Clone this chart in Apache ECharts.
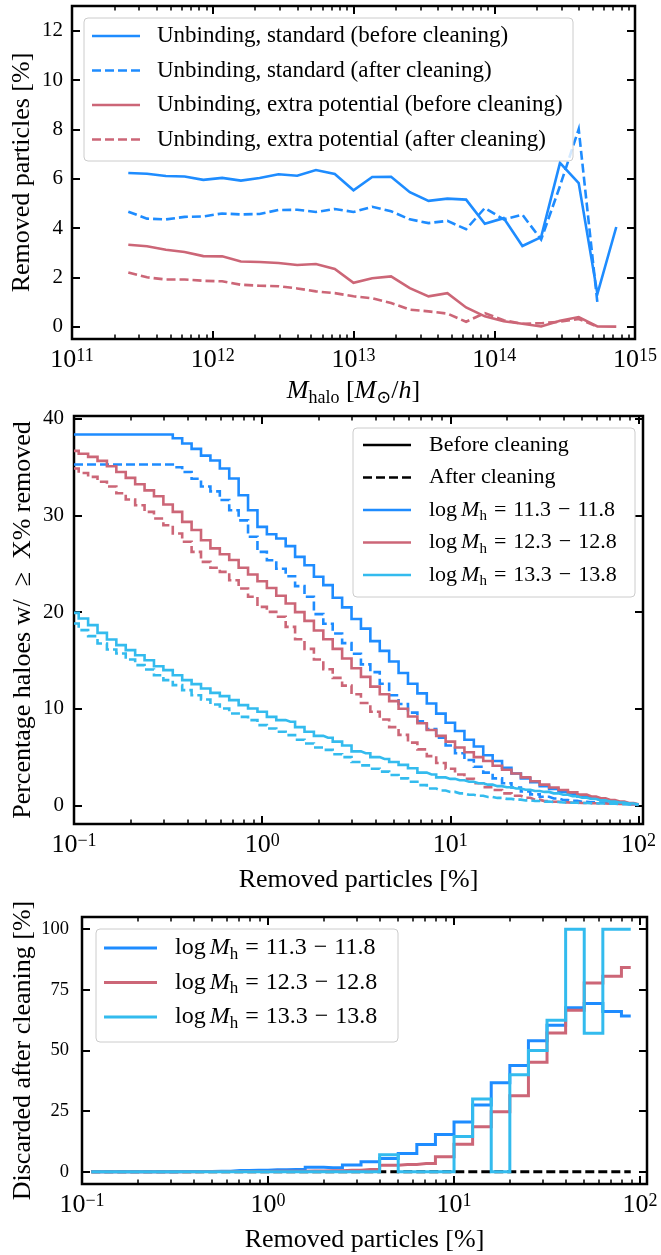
<!DOCTYPE html>
<html><head><meta charset="utf-8">
<script src="https://cdn.jsdelivr.net/npm/echarts@6/dist/echarts.min.js"></script>
<style>html,body{margin:0;padding:0;background:#fff}#c{width:661px;height:1255px}</style>
</head><body><div id="c"></div>
<script>
// ---------- Panel 1: removed particles vs halo mass ----------
const massLog = [11.4, 11.533, 11.667, 11.8, 11.933, 12.067, 12.2, 12.333, 12.467, 12.6, 12.733, 12.867, 13.0, 13.133, 13.267, 13.4, 13.533, 13.667, 13.8, 13.933, 14.067, 14.2, 14.333, 14.467, 14.6, 14.733, 14.867];
const stdBefore = [6.23, 6.20, 6.11, 6.09, 5.95, 6.03, 5.92, 6.03, 6.18, 6.12, 6.35, 6.19, 5.53, 6.07, 6.08, 5.45, 5.10, 5.19, 5.15, 4.17, 4.40, 3.27, 3.63, 6.64, 5.82, 1.33, 4.04];
const stdAfter = [4.66, 4.38, 4.35, 4.45, 4.47, 4.59, 4.55, 4.57, 4.73, 4.74, 4.65, 4.77, 4.65, 4.86, 4.68, 4.35, 4.20, 4.29, 3.95, 4.81, 4.35, 4.54, 3.53, 5.70, 8.01, 0.96, null];
const extraBefore = [3.32, 3.26, 3.12, 3.03, 2.86, 2.85, 2.64, 2.62, 2.58, 2.50, 2.54, 2.34, 1.78, 1.96, 2.04, 1.56, 1.23, 1.36, 0.78, 0.42, 0.22, 0.12, 0.01, 0.24, 0.39, 0.01, 0.0];
const extraAfter = [2.20, 2.00, 1.91, 1.91, 1.86, 1.84, 1.70, 1.66, 1.64, 1.55, 1.43, 1.36, 1.23, 1.15, 0.96, 0.69, 0.62, 0.53, 0.20, 0.55, 0.26, 0.12, 0.14, 0.20, 0.31, 0.0, null];
const p1Labels = ['Unbinding, standard (before cleaning)', 'Unbinding, standard (after cleaning)', 'Unbinding, extra potential (before cleaning)', 'Unbinding, extra potential (after cleaning)'];

// ---------- Panel 2: cumulative percentage of haloes ----------
const removedLog = [-1.00,-0.95,-0.90,-0.85,-0.80,-0.75,-0.70,-0.65,-0.60,-0.55,-0.50,-0.45,-0.40,-0.35,-0.30,-0.25,-0.20,-0.15,-0.10,-0.05,0.00,0.05,0.10,0.15,0.20,0.25,0.30,0.35,0.40,0.45,0.50,0.55,0.60,0.65,0.70,0.75,0.80,0.85,0.90,0.95,1.00,1.05,1.10,1.15,1.20,1.25,1.30,1.35,1.40,1.45,1.50,1.55,1.60,1.65,1.70,1.75,1.80,1.85,1.90,1.95,2.00];
const lowBefore = [38.38,38.38,38.38,38.38,38.38,38.38,38.38,38.38,38.38,38.38,38.38,38.0,37.45,36.9,36.2,35.7,34.86,33.83,32.1,30.55,28.83,28.07,27.62,26.83,25.72,24.86,23.66,22.8,21.5,20.5,19.3,18.3,17.0,16.0,14.9,13.7,12.6,11.6,10.55,9.5,8.55,7.7,6.8,6.1,5.2,4.6,3.9,3.3,2.8,2.4,2.0,1.7,1.4,1.15,0.92,0.72,0.55,0.4,0.27,0.16,0.08];
const lowAfter = [35.28,35.28,35.28,35.28,35.28,35.28,35.28,35.28,35.28,35.28,35.28,35.0,34.5,33.8,33.0,32.5,31.6,30.55,29.5,27.8,26.24,25.38,24.5,23.72,22.7,21.6,19.8,18.8,17.8,16.8,15.7,14.6,13.8,12.6,11.4,10.5,9.6,8.7,7.9,7.0,6.2,5.4,4.7,4.0,3.4,2.8,2.3,1.85,1.45,1.15,0.9,0.72,0.57,0.47,0.39,0.33,0.28,0.23,0.18,0.12,0.06];
const midBefore = [36.69,36.4,36.07,35.66,35.1,34.5,33.9,33.24,32.6,32.0,31.14,30.38,29.34,28.5,27.45,26.6,26.0,25.4,24.6,23.9,23.2,22.5,21.7,20.9,20.0,19.1,18.1,17.2,16.2,15.2,14.2,13.3,12.3,11.5,10.8,10.0,9.2,8.5,7.8,7.2,6.6,6.0,5.5,5.0,4.6,4.1,3.7,3.3,2.9,2.5,2.15,1.85,1.6,1.35,1.12,0.92,0.74,0.56,0.4,0.25,0.12];
const midAfter = [34.86,34.4,34.0,33.5,33.0,32.3,31.66,31.07,30.38,29.7,29.0,28.14,27.28,26.24,25.2,24.6,24.17,23.31,22.45,21.59,20.55,20.03,19.52,18.48,17.2,16.2,15.1,14.1,13.2,12.4,11.5,10.6,9.7,8.9,8.1,7.3,6.5,5.8,5.1,4.4,3.8,3.2,2.75,2.3,1.9,1.6,1.25,1.0,0.8,0.6,0.45,0.38,0.32,0.28,0.25,0.22,0.2,0.18,0.15,0.12,0.08];
const highBefore = [19.93,19.34,18.66,17.86,17.17,16.59,16.07,15.55,15.03,14.41,14.0,13.48,12.97,12.55,12.1,11.65,11.31,10.9,10.38,10.03,9.69,9.17,8.83,8.66,8.1,7.62,7.2,7.0,6.6,6.2,5.6,5.4,5.0,4.8,4.5,4.2,3.85,3.4,3.2,2.9,2.75,2.6,2.45,2.3,2.15,2.0,1.88,1.75,1.62,1.5,1.4,1.25,1.1,0.95,0.8,0.66,0.52,0.4,0.3,0.2,0.1];
const highAfter = [18.83,18.14,17.52,16.76,16.14,15.72,15.1,14.52,14.07,13.48,12.97,12.45,11.93,11.41,10.97,10.45,10.03,9.52,9.17,8.83,8.31,7.97,7.62,7.28,6.8,6.41,6.0,5.75,5.3,5.0,4.5,4.15,3.8,3.5,3.15,2.8,2.45,2.1,1.75,1.55,1.4,1.25,1.1,1.0,0.88,0.78,0.68,0.6,0.52,0.46,0.4,0.35,0.31,0.28,0.25,0.22,0.2,0.17,0.14,0.1,0.06];
const massBins = ['11.3 \u2212 11.8', '12.3 \u2212 12.8', '13.3 \u2212 13.8'];

// ---------- Panel 3: fraction discarded after cleaning ----------
const binLog = [-0.95,-0.85,-0.75,-0.65,-0.55,-0.45,-0.35,-0.25,-0.15,-0.05,0.05,0.15,0.25,0.35,0.45,0.55,0.65,0.75,0.85,0.95,1.05,1.15,1.25,1.35,1.45,1.55,1.65,1.75,1.85,1.95];
const discLow = [0,0,0,0,0,0.1,0.2,0.3,0.6,0.7,0.9,1.0,1.9,1.7,2.8,4.2,5.5,7.6,11.3,15.4,20.5,27.5,36.7,43.8,54.0,60.4,67.6,69.4,66.1,64.2];
const discMid = [0,0,0,0,0,0,0.1,0.1,0.2,0.2,0.3,0.3,0.4,0.5,0.7,1.0,2.7,3.0,3.4,6.2,11.4,18.6,24.8,31.4,45.2,57.2,66.6,77.8,80.6,84.2];
const discHigh = [0,0,0,0,0,0,0,0,0,0,0,0,0,0,0,0,7.0,0,0,0,14.6,30.0,0,40.0,50.0,62.5,100,57.1,100,100];
const discAfter = [0,0,0,0,0,0,0,0,0,0,0,0,0,0,0,0,0,0,0,0,0,0,0,0,0,0,0,0,0,0];

// tick labels
const p1YTicks = [0, 2, 4, 6, 8, 10, 12];
const p2YTicks = [0, 10, 20, 30, 40];
const p3YTicks = [0, 25, 50, 75, 100];
const p1XDecades = [11, 12, 13, 14, 15];
const p23XDecades = [-1, 0, 1, 2];

// ---------- styling ----------
const FF = '"Liberation Serif", "DejaVu Serif", serif';
const BLUE = '#1e8cff', RED = '#cc6677', CYAN = '#33bbee';
const DASH = [9, 4];
const LW = 2.6;

const grids = [
  {left: 72, top: 6, width: 563, height: 333},
  {left: 74, top: 416, width: 569, height: 408},
  {left: 82, top: 917, width: 565, height: 267}
].map(g => Object.assign(g, {show: true, borderColor: '#000', borderWidth: 2.5, backgroundColor: 'rgba(0,0,0,0)', containLabel: false, outerBoundsMode: 'none'}));

const xRange = [[1e11, 1e15], [0.1, 105.7], [0.1, 109]];

function minorList(e0, e1) {
  const out = [];
  for (let e = e0; e < e1; e++) for (let m = 2; m <= 9; m++) out.push(e + Math.log10(m));
  return out;
}
function supFmt(v) {
  const e = Math.round(v);
  return '{b|10}{s|' + (e < 0 ? '\u2212' + (-e) : e) + '}';
}
const tickRich = {
  b: {fontFamily: FF, fontSize: 26, color: '#000', lineHeight: 26, verticalAlign: 'bottom'},
  s: {fontFamily: FF, fontSize: 18, color: '#000', lineHeight: 3, verticalAlign: 'top'}
};
const mathRich = (fs) => ({
  t: {fontFamily: FF, fontSize: fs, color: '#000', fill: '#000', lineHeight: fs + 6, verticalAlign: 'middle'},
  tl: {fontFamily: FF, fontSize: fs, color: '#000', fill: '#000', lineHeight: fs + 6, verticalAlign: 'middle', padding: [0, 4, 0, 0]},
  i: {fontFamily: FF, fontSize: fs, fontStyle: 'italic', color: '#000', fill: '#000', lineHeight: fs + 6, verticalAlign: 'middle'},
  u: {fontFamily: FF, fontSize: Math.round(fs * 0.7), color: '#000', fill: '#000', lineHeight: 10, verticalAlign: 'bottom'},
  o: {fontFamily: FF, fontSize: fs, color: '#000', fill: '#000', lineHeight: fs + 6, verticalAlign: 'middle', padding: [0, 7, 0, 7]}
});

const xAxes = [], yAxes = [];
const xNames = [
  {text: '{i|M}{u|halo}{t| [}{i|M}{u|\u2299}{t|/}{i|h}{t|]}', gap: 36},
  {text: '{t|Removed particles [%]}', gap: 40},
  {text: '{t|Removed particles [%]}', gap: 40}
];
const yNames = [
  {text: 'Removed particles [%]', gap: 37},
  {text: 'Percentage haloes w/  \u2265  X% removed', gap: 38},
  {text: 'Discarded after cleaning [%]', gap: 46}
];
const yInfo = [
  {min: -0.5, max: 13, ticks: p1YTicks, fs: 21, margin: 9},
  {min: -1.92, max: 40.3, ticks: p2YTicks, fs: 21, margin: 10},
  {min: -5, max: 105, ticks: p3YTicks, fs: 18.5, margin: 13}
];
const noLine = {show: false, onZero: false};

for (let p = 0; p < 3; p++) {
  const lmin = Math.log10(xRange[p][0]), lmax = Math.log10(xRange[p][1]);
  const majors = p === 0 ? p1XDecades : p23XDecades;
  const minors = p === 0 ? minorList(11, 15) : minorList(-1, 2);
  // main log axis: carries the data
  xAxes.push({
    type: 'log', logBase: 10, gridIndex: p, position: 'bottom', min: xRange[p][0], max: xRange[p][1],
    axisLine: noLine, axisTick: {show: false}, axisLabel: {show: false}, splitLine: {show: false}, minorTick: {show: false},
    name: xNames[p].text, nameLocation: 'middle', nameGap: xNames[p].gap, nameMoveOverlap: false,
    nameTextStyle: {fontFamily: FF, fontSize: 26, color: '#000', rich: mathRich(26)}
  });
  const tickAxis = (pos, vals, len, width, labels) => ({
    type: 'value', gridIndex: p, position: pos, min: lmin, max: lmax,
    axisLine: noLine, splitLine: {show: false},
    axisTick: {show: true, inside: true, length: len, customValues: vals, lineStyle: {color: '#000', width: width}},
    axisLabel: labels ? {show: true, customValues: vals, formatter: supFmt, rich: tickRich, margin: 8, color: '#000'} : {show: false}
  });
  xAxes.push(tickAxis('bottom', majors, 8, 2, true));
  xAxes.push(tickAxis('bottom', minors, 4.5, 1.5, false));
  xAxes.push(tickAxis('top', majors, 8, 2, false));
  xAxes.push(tickAxis('top', minors, 4.5, 1.5, false));

  const yi = yInfo[p];
  yAxes.push({
    type: 'value', gridIndex: p, position: 'left', min: yi.min, max: yi.max,
    axisLine: noLine, splitLine: {show: false},
    axisTick: {show: true, inside: true, length: 8, customValues: yi.ticks, lineStyle: {color: '#000', width: 2}},
    axisLabel: {show: true, customValues: yi.ticks, fontFamily: FF, fontSize: yi.fs, color: '#000', margin: yi.margin},
    name: yNames[p].text, nameLocation: 'middle', nameGap: yNames[p].gap, nameMoveOverlap: false,
    nameTextStyle: {fontFamily: FF, fontSize: 26, color: '#000'}
  });
  yAxes.push({
    type: 'value', gridIndex: p, position: 'right', min: yi.min, max: yi.max,
    axisLine: noLine, splitLine: {show: false},
    axisTick: {show: true, inside: true, length: 8, customValues: yi.ticks, lineStyle: {color: '#000', width: 2}},
    axisLabel: {show: false}
  });
}

function pairs(xsLog, ys) {
  const out = [];
  for (let i = 0; i < xsLog.length; i++) if (ys[i] !== null) out.push([Math.pow(10, xsLog[i]), ys[i]]);
  return out;
}
function line(p, xsLog, ys, color, dashed, step, width) {
  return {
    type: 'line', xAxisIndex: p * 5, yAxisIndex: p * 2, data: pairs(xsLog, ys),
    showSymbol: false, symbol: 'none', silent: true, animation: false, step: step || false, clip: true,
    lineStyle: {color: color, width: width || LW, type: dashed ? DASH : 'solid', cap: 'butt', join: 'miter'}
  };
}

const P3W = 3;
const series = [
  line(0, massLog, stdBefore, BLUE, false),
  line(0, massLog, stdAfter, BLUE, true),
  line(0, massLog, extraBefore, RED, false),
  line(0, massLog, extraAfter, RED, true),
  line(1, removedLog, lowBefore, BLUE, false, 'middle'),
  line(1, removedLog, lowAfter, BLUE, true, 'middle'),
  line(1, removedLog, midBefore, RED, false, 'middle'),
  line(1, removedLog, midAfter, RED, true, 'middle'),
  line(1, removedLog, highBefore, CYAN, false, 'middle'),
  line(1, removedLog, highAfter, CYAN, true, 'middle'),
  line(2, binLog, discAfter, '#000', true, 'middle', P3W),
  line(2, binLog, discLow, BLUE, false, 'middle', P3W),
  line(2, binLog, discMid, RED, false, 'middle', P3W),
  line(2, binLog, discHigh, CYAN, false, 'middle', P3W)
];

// ---------- legends ----------
function legend(box, rows, lx1, lx2, tx, fs, entries, lw) {
  const els = [{type: 'rect', z: 100, shape: {x: box[0], y: box[1], width: box[2], height: box[3], r: 4},
    style: {fill: 'rgba(255,255,255,0.8)', stroke: '#cccccc', lineWidth: 1}}];
  entries.forEach((en, i) => {
    const y = rows[i];
    els.push({type: 'line', z: 101, shape: {x1: lx1, y1: y, x2: lx2, y2: y},
      style: {stroke: en.color, lineWidth: lw, lineDash: en.dashed ? DASH : null}});
    els.push({type: 'text', z: 101, x: tx, y: y,
      style: {text: en.text, rich: mathRich(fs), fontFamily: FF, fontSize: fs, fill: '#000',
        align: 'left', verticalAlign: 'middle', textVerticalAlign: 'middle'}});
  });
  return els;
}
const mLabel = (s) => '{tl|log}{i|M}{u|h}{o|=}{t|' + s.split(' \u2212 ')[0] + '}{o|\u2212}{t|' + s.split(' \u2212 ')[1] + '}';

const graphic = [].concat(
  legend([84, 18, 489, 143], [36, 70.5, 105, 139.5], 92, 140, 157, 23, [
    {color: BLUE, dashed: false, text: '{t|' + p1Labels[0] + '}'},
    {color: BLUE, dashed: true, text: '{t|' + p1Labels[1] + '}'},
    {color: RED, dashed: false, text: '{t|' + p1Labels[2] + '}'},
    {color: RED, dashed: true, text: '{t|' + p1Labels[3] + '}'}
  ], LW),
  legend([353, 428, 282, 169], [445, 477.5, 510, 542.5, 575], 363, 411, 429, 22, [
    {color: '#000', dashed: false, text: '{t|Before cleaning}'},
    {color: '#000', dashed: true, text: '{t|After cleaning}'},
    {color: BLUE, dashed: false, text: mLabel(massBins[0])},
    {color: RED, dashed: false, text: mLabel(massBins[1])},
    {color: CYAN, dashed: false, text: mLabel(massBins[2])}
  ], LW),
  legend([96, 929, 302, 113], [948, 982.5, 1017], 104, 157, 175, 24, [
    {color: BLUE, dashed: false, text: mLabel(massBins[0])},
    {color: RED, dashed: false, text: mLabel(massBins[1])},
    {color: CYAN, dashed: false, text: mLabel(massBins[2])}
  ], P3W)
);

const chart = echarts.init(document.getElementById('c'), null, {renderer: 'canvas'});
chart.setOption({
  animation: false,
  backgroundColor: '#ffffff',
  grid: grids,
  xAxis: xAxes,
  yAxis: yAxes,
  series: series,
  graphic: graphic
});
</script></body></html>
